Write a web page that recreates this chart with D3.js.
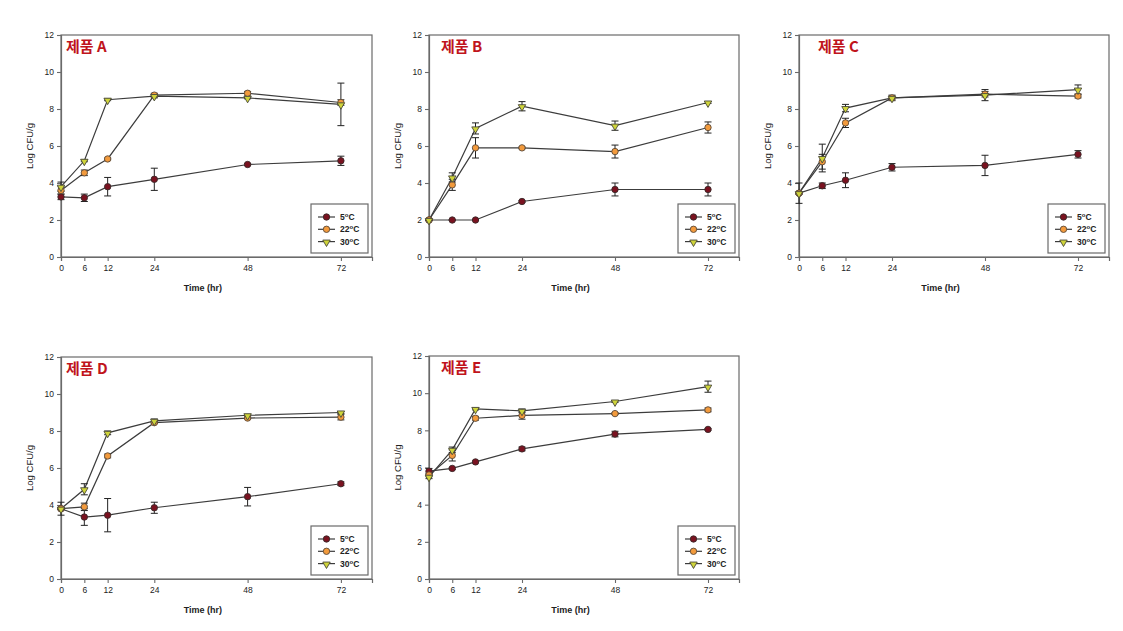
<!DOCTYPE html>
<html><head><meta charset="utf-8">
<script src="https://cdn.jsdelivr.net/npm/d3@7"></script>
<style>
html,body{margin:0;padding:0;background:#fff;}
svg{display:block;font-family:"Liberation Sans",Arial,sans-serif;}
</style></head>
<body>
<svg id="chart" width="1123" height="631"></svg>
<script>
// ---------- data ----------
const timeHr = [0, 6, 12, 24, 48, 72];
const xTicks = [0, 6, 12, 24, 48, 72];
const yTicks = [0, 2, 4, 6, 8, 10, 12];
const seriesNames = ["5", "22", "30"];
const productNames = ["제품 A", "제품 B", "제품 C", "제품 D", "제품 E"];

const prodA_5   = [3.25, 3.2, 3.8, 4.2, 5.0, 5.2];
const prodA_5e  = [0.15, 0.2, 0.5, 0.6, 0.05, 0.25];
const prodA_22  = [3.6, 4.55, 5.3, 8.75, 8.85, 8.35];
const prodA_22e = [0.2, 0.15, 0.05, 0.1, 0.1, 0.15];
const prodA_30  = [3.8, 5.2, 8.5, 8.7, 8.6, 8.25];
const prodA_30e = [0.25, 0.05, 0.05, 0.1, 0.05, 1.15];

const prodB_5   = [2.0, 2.0, 2.0, 3.0, 3.65, 3.65];
const prodB_5e  = [0.03, 0.03, 0.03, 0.05, 0.35, 0.35];
const prodB_22  = [2.0, 3.9, 5.9, 5.9, 5.7, 7.0];
const prodB_22e = [0.03, 0.3, 0.55, 0.05, 0.35, 0.3];
const prodB_30  = [2.0, 4.3, 6.95, 8.15, 7.1, 8.35];
const prodB_30e = [0.03, 0.25, 0.3, 0.25, 0.25, 0.05];

const prodC_5   = [3.45, 3.85, 4.15, 4.85, 4.95, 5.55];
const prodC_5e  = [0.55, 0.15, 0.4, 0.2, 0.55, 0.2];
const prodC_22  = [3.45, 5.15, 7.25, 8.6, 8.8, 8.7];
const prodC_22e = [0.05, 0.4, 0.25, 0.1, 0.15, 0.1];
const prodC_30  = [3.45, 5.35, 8.05, 8.6, 8.75, 9.05];
const prodC_30e = [0.05, 0.75, 0.2, 0.15, 0.3, 0.25];

const prodD_5   = [3.8, 3.35, 3.45, 3.85, 4.45, 5.15];
const prodD_5e  = [0.35, 0.45, 0.9, 0.3, 0.5, 0.1];
const prodD_22  = [3.8, 3.9, 6.65, 8.45, 8.7, 8.75];
const prodD_22e = [0.05, 0.2, 0.1, 0.05, 0.05, 0.15];
const prodD_30  = [3.8, 4.85, 7.9, 8.55, 8.85, 9.0];
const prodD_30e = [0.05, 0.3, 0.1, 0.1, 0.05, 0.05];

const prodE_5   = [5.8, 5.95, 6.3, 7.0, 7.8, 8.05];
const prodE_5e  = [0.15, 0.05, 0.05, 0.1, 0.15, 0.05];
const prodE_22  = [5.6, 6.65, 8.65, 8.8, 8.9, 9.1];
const prodE_22e = [0.1, 0.3, 0.1, 0.2, 0.05, 0.1];
const prodE_30  = [5.5, 6.95, 9.15, 9.05, 9.55, 10.35];
const prodE_30e = [0.1, 0.15, 0.05, 0.1, 0.05, 0.3];

const productData = [
  [[prodA_5, prodA_5e], [prodA_22, prodA_22e], [prodA_30, prodA_30e]],
  [[prodB_5, prodB_5e], [prodB_22, prodB_22e], [prodB_30, prodB_30e]],
  [[prodC_5, prodC_5e], [prodC_22, prodC_22e], [prodC_30, prodC_30e]],
  [[prodD_5, prodD_5e], [prodD_22, prodD_22e], [prodD_30, prodD_30e]],
  [[prodE_5, prodE_5e], [prodE_22, prodE_22e], [prodE_30, prodE_30e]]
];

// ---------- layout / style ----------
const panels = [
  {l: 61,  r: 372,  t: 35,  b: 257, titleDx: 5},
  {l: 429, r: 739,  t: 35,  b: 257, titleDx: 12},
  {l: 799, r: 1109, t: 35,  b: 257, titleDx: 19},
  {l: 61,  r: 372,  t: 357, b: 579, titleDx: 5},
  {l: 429, r: 739,  t: 356, b: 579, titleDx: 12}
];
const markerFill = ["#7a1220", "#f29a3c", "#cfd43a"];
const markerStroke = ["#3a2a2a", "#5a4a3a", "#4a4a3a"];
const axisColor = "#6a6a6a";

const svg = d3.select("#chart");

function legendLabel(sel, n) {
  sel.append("tspan").text(n);
  sel.append("tspan").attr("dy", -3).attr("font-size", 6).text("o");
  sel.append("tspan").attr("dy", 3).text("C");
}

function drawMarker(g, i, x, y) {
  if (i < 2) {
    g.append("circle").attr("cx", x).attr("cy", y).attr("r", 3.2)
      .attr("fill", markerFill[i]).attr("stroke", markerStroke[i]).attr("stroke-width", 0.9);
  } else {
    g.append("path").attr("d", d3.symbol(d3.symbolTriangle, 24)())
      .attr("transform", `translate(${x},${y + 0.6}) rotate(180)`)
      .attr("fill", markerFill[i]).attr("stroke", markerStroke[i]).attr("stroke-width", 0.9);
  }
}

panels.forEach((p, pi) => {
  const x = d3.scaleLinear().domain([0, 80]).range([p.l, p.r]);
  const y = d3.scaleLinear().domain([0, 12]).range([p.b, p.t]);
  const g = svg.append("g");

  // frame
  g.append("rect").attr("x", p.l).attr("y", p.t).attr("width", p.r - p.l).attr("height", p.b - p.t)
    .attr("fill", "none").attr("stroke", axisColor).attr("stroke-width", 1.2);

  // axes
  const xa = g.append("g").attr("transform", `translate(0,${p.b})`)
    .call(d3.axisBottom(x).tickValues(xTicks).tickSize(4).tickPadding(4).tickFormat(d3.format("d")));
  const ya = g.append("g").attr("transform", `translate(${p.l},0)`)
    .call(d3.axisLeft(y).tickValues(yTicks).tickSize(4).tickPadding(3).tickFormat(d3.format("d")));
  [xa, ya].forEach(a => {
    a.select(".domain").attr("stroke", axisColor).attr("stroke-width", 1.2);
    a.selectAll(".tick line").attr("stroke", axisColor).attr("stroke-width", 1.1);
    a.selectAll(".tick text").attr("font-size", 8.5).attr("fill", "#222")
      .attr("font-family", "'Liberation Sans', Arial, sans-serif");
  });

  // axis titles
  g.append("text").attr("x", (x(0) + x(72)) / 2 + 2).attr("y", p.b + 34)
    .attr("text-anchor", "middle").attr("font-size", 9).attr("font-weight", "bold").attr("fill", "#222")
    .text("Time (hr)");
  g.append("text").attr("transform", `translate(${p.l - 28},${(p.t + p.b) / 2}) rotate(-90)`)
    .attr("text-anchor", "middle").attr("font-size", 9.5).attr("fill", "#222")
    .text("Log CFU/g");

  // title
  g.append("text").attr("x", p.l + p.titleDx).attr("y", p.t + 17)
    .attr("font-size", 15).attr("font-weight", "bold").attr("fill", "#c0141c")
    .attr("font-family", "'Noto Sans CJK KR', 'Noto Sans', sans-serif")
    .text(productNames[pi]);

  const series = productData[pi];
  const line = d3.line().x((d, i) => x(timeHr[i])).y(d => y(d));

  // lines
  series.forEach((s, si) => {
    g.append("path").attr("d", line(s[0])).attr("fill", "none")
      .attr("stroke", "#3c3c3c").attr("stroke-width", 1.2);
  });
  // error bars
  series.forEach((s, si) => {
    s[0].forEach((v, i) => {
      const e = s[1][i];
      const cx = x(timeHr[i]);
      const eg = g.append("g").attr("stroke", "#222").attr("stroke-width", 1);
      eg.append("line").attr("x1", cx).attr("x2", cx).attr("y1", y(v - e)).attr("y2", y(v + e));
      eg.append("line").attr("x1", cx - 3.5).attr("x2", cx + 3.5).attr("y1", y(v - e)).attr("y2", y(v - e));
      eg.append("line").attr("x1", cx - 3.5).attr("x2", cx + 3.5).attr("y1", y(v + e)).attr("y2", y(v + e));
    });
  });
  // markers
  series.forEach((s, si) => {
    s[0].forEach((v, i) => drawMarker(g, si, x(timeHr[i]), y(v)));
  });

  // legend
  const lw = 57, lh = 49;
  const lx = p.r - 4 - lw, ly = p.b - 4 - lh;
  const lg = g.append("g");
  lg.append("rect").attr("x", lx).attr("y", ly).attr("width", lw).attr("height", lh)
    .attr("fill", "#fff").attr("stroke", axisColor).attr("stroke-width", 1.2);
  seriesNames.forEach((n, si) => {
    const ry = ly + 13 + si * 12.3;
    lg.append("line").attr("x1", lx + 7).attr("x2", lx + 24).attr("y1", ry).attr("y2", ry)
      .attr("stroke", "#3c3c3c").attr("stroke-width", 1.2);
    drawMarker(lg, si, lx + 15.5, ry);
    const t = lg.append("text").attr("x", lx + 29).attr("y", ry + 3)
      .attr("font-size", 8.5).attr("font-weight", "bold").attr("fill", "#222");
    legendLabel(t, n);
  });
});
</script>
</body></html>
